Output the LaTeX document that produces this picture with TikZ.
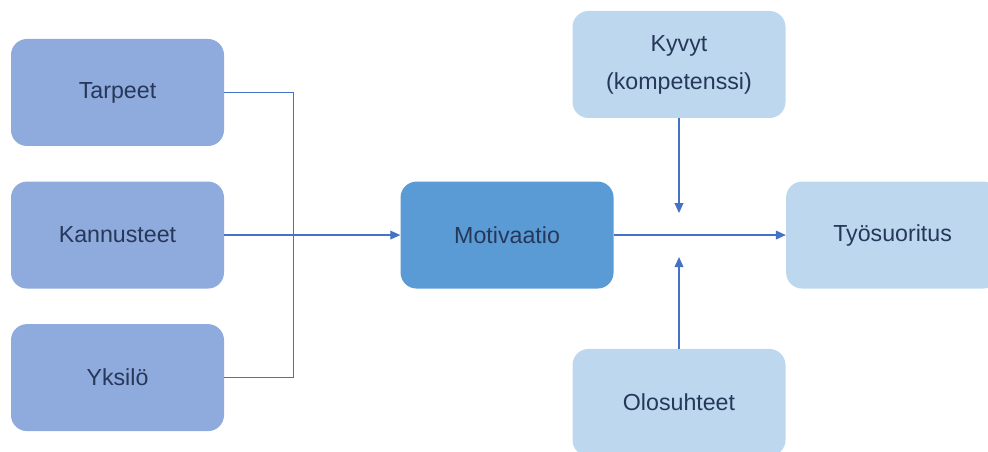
\documentclass[tikz,border=0pt]{standalone}
\usepackage{fontspec}
\setmainfont{Liberation Sans}
\usepackage{xcolor}
\usetikzlibrary{positioning, arrows.meta, calc}
\definecolor{factor}{HTML}{8FAADC}
\definecolor{core}{HTML}{5B9BD5}
\definecolor{pale}{HTML}{BDD7EE}
\definecolor{wire}{HTML}{4472C4}
\definecolor{ink}{HTML}{263859}

\begin{document}
\begin{tikzpicture}[
    every node/.style={font=\fontsize{16.5}{27}\selectfont, text=ink},
    block/.style={
      fill=factor, draw=none,
      rounded corners=0.4cm, minimum width=5.325cm, minimum height=2.675cm,
      align=center
    },
    link/.style={wire, line width=0.9pt},
    arrow/.style={-{Triangle[length=2.5mm, width=2.2mm]}, wire, line width=0.9pt}
]
  \useasboundingbox (0,0) rectangle (24.7,-11.3);

  \node[block] (tarpeet) at (2.9375,-2.3125) {Tarpeet};
  \node[block, below=0.875cm of tarpeet] (kannusteet) {Kannusteet};
  \node[block, below=0.875cm of kannusteet] (yksilo) {Yksilö};

  \node[block, right=4.4cm of kannusteet, fill=core] (motivaatio) {Motivaatio};
  \node[block, right=4.3cm of motivaatio, fill=pale] (tyosuoritus) {Työsuoritus};

  \node[block, fill=pale] (kyvyt) at (16.975,-1.6125) {Kyvyt\\(kompetenssi)};
  \node[block, fill=pale] (olosuhteet) at (16.975,-10.0625) {Olosuhteet};

  \coordinate (meet) at (kyvyt.south |- motivaatio.east);

  \draw[link] (tarpeet.east) -- ++(1.725,0) |- (yksilo.east);
  \draw[arrow] (kannusteet) -- (motivaatio);
  \draw[arrow] (motivaatio) -- (tyosuoritus);

  \draw[arrow] (kyvyt) -- ($(meet)+(0,0.55)$);
  \draw[arrow] (olosuhteet) -- ($(meet)+(0,-0.55)$);
\end{tikzpicture}
\end{document}
